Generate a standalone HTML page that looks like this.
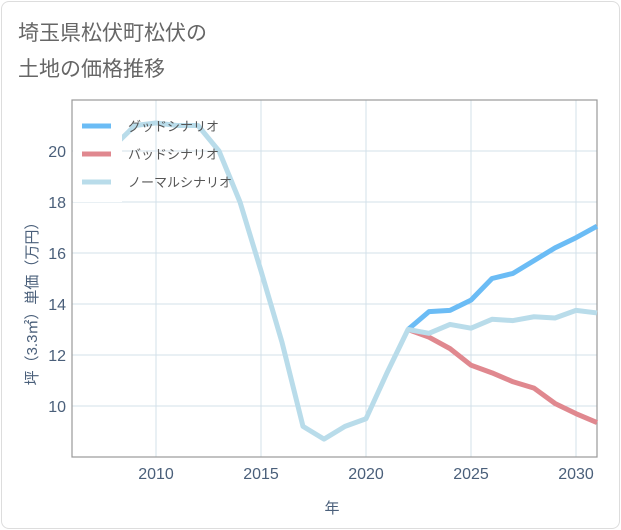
<!DOCTYPE html>
<html><head><meta charset="utf-8"><style>
body{margin:0;background:#fff;font-family:"Liberation Sans","Noto Sans CJK JP",sans-serif;}
.card{position:absolute;left:1px;top:1px;width:617px;height:526px;border:1px solid #ddd;border-radius:8px;background:#fff;}
</style></head><body>
<div class="card"></div>
<svg width="621" height="530" style="position:absolute;left:0;top:0">
<text x="18" y="40" font-size="21" fill="#666">埼玉県松伏町松伏の</text>
<text x="18" y="76" font-size="21" fill="#666">土地の価格推移</text>
<g id="grid"></g>
<rect x="72" y="100" width="525" height="357" fill="none" stroke="#999" stroke-width="1.2"/>
<g id="lines"></g><g id="axes"></g>
<rect x="73" y="104" width="49" height="98" fill="#fff"/>
<g>
<line x1="82" y1="126" x2="111" y2="126" stroke="#6bbcf5" stroke-width="5"/>
<text x="128" y="131" font-size="13" fill="#555">グッドシナリオ</text>
<line x1="82" y1="154" x2="111" y2="154" stroke="#e0888f" stroke-width="5"/>
<text x="128" y="159" font-size="13" fill="#555">バッドシナリオ</text>
<line x1="82" y1="182" x2="111" y2="182" stroke="#b9dcea" stroke-width="5"/>
<text x="128" y="187" font-size="13" fill="#555">ノーマルシナリオ</text>
</g>
<text x="332" y="513" font-size="15" fill="#4a5f7a" text-anchor="middle">年</text>
<text transform="translate(37,300) rotate(-90)" font-size="15" fill="#4a5f7a" text-anchor="middle">坪（3.3㎡）単価（万円）</text>
</svg>
<script>
const normalYears=[2008,2009,2010,2011,2012,2013,2014,2015,2016,2017,2018,2019,2020,2021,2022,2023,2024,2025,2026,2027,2028,2029,2030,2031];
const normalValues=[20.2,21.0,21.1,21.0,21.0,20.0,18.0,15.3,12.5,9.2,8.7,9.2,9.5,11.3,13.0,12.85,13.2,13.05,13.4,13.35,13.5,13.45,13.75,13.65];
const futureYears=[2022,2023,2024,2025,2026,2027,2028,2029,2030,2031];
const goodValues=[13.0,13.7,13.75,14.15,15.0,15.2,15.7,16.2,16.6,17.05];
const badValues=[13.0,12.7,12.25,11.6,11.3,10.95,10.7,10.1,9.7,9.35];
const xTicks=[2010,2015,2020,2025,2030];
const yTicks=[10,12,14,16,18,20];
const X0=72,X1=597,Y0=457,Y1=100,xMin=2006,xMax=2031,yMin=8,yMax=22;
const sx=v=>X0+(v-xMin)/(xMax-xMin)*(X1-X0);
const sy=v=>Y0-(v-yMin)/(yMax-yMin)*(Y0-Y1);
const NS="http://www.w3.org/2000/svg";
const grid=document.getElementById('grid'),axes=document.getElementById('axes'),lines=document.getElementById('lines');
function mk(t,a,p){const e=document.createElementNS(NS,t);for(const k in a)e.setAttribute(k,a[k]);p.appendChild(e);return e;}
xTicks.forEach(t=>{
 const l=mk('line',{x1:sx(t),x2:sx(t),y1:Y1,y2:Y0,stroke:'#d3e0ea','stroke-width':1},grid);
 
 
 const tx=mk('text',{x:sx(t),y:479,'font-size':16,fill:'#4a5f7a','text-anchor':'middle'},axes);
 tx.textContent=t;
 
 
});
yTicks.forEach(t=>{
 const l=mk('line',{x1:X0,x2:X1,y1:sy(t),y2:sy(t),stroke:'#d3e0ea','stroke-width':1},grid);
 
 
 const tx=mk('text',{x:66,y:sy(t)+6,'font-size':16,fill:'#4a5f7a','text-anchor':'end'},axes);
 tx.textContent=t;
 
 
});
function series(xs,ys,color,name){
 const p=mk('polyline',{points:xs.map((x,i)=>sx(x)+','+sy(ys[i])).join(' '),fill:'none',stroke:color,'stroke-width':5,'stroke-linejoin':'round'},lines);
 
 
}
series(futureYears,goodValues,'#6bbcf5','good-scenario-line');
series(futureYears,badValues,'#e0888f','bad-scenario-line');
series(normalYears,normalValues,'#b9dcea','normal-scenario-line');
</script>
</body></html>
